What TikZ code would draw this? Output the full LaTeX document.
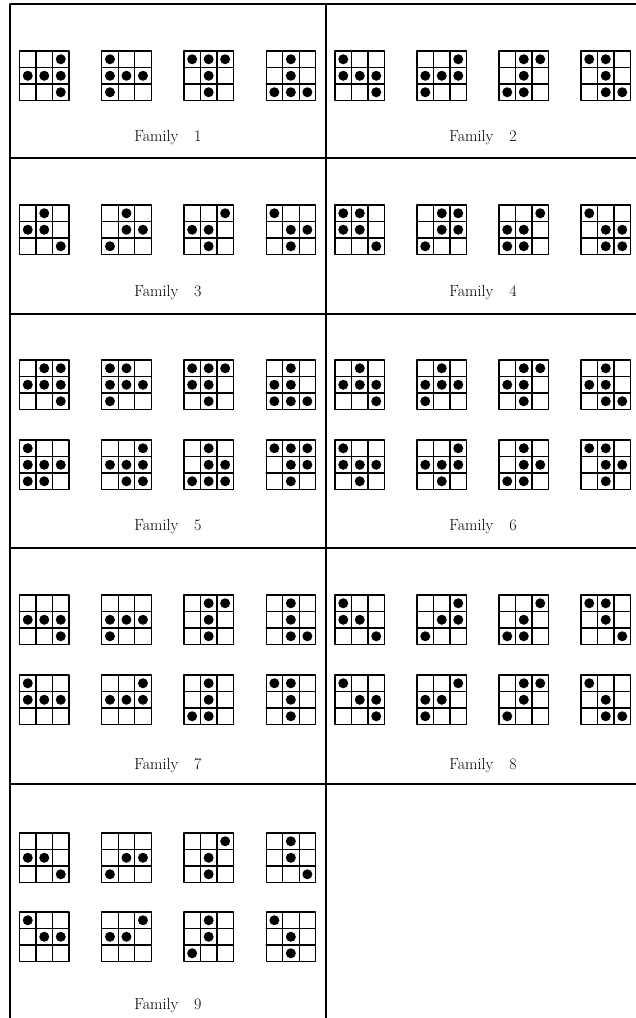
\documentclass[tikz,border=0pt]{standalone}
\usepackage{tikz}
\usetikzlibrary{calc}

% one 3x3 board: top-left corner (#1,#2), filled cells col/row in #3
\newcommand{\dotgrid}[3]{%
  \begin{scope}[shift={(#1,#2)}]
    \draw[gridline] (0,0) rectangle (49.5,49.5);
    \draw[gridline] (16.5,0) -- (16.5,49.5) (33,0) -- (33,49.5)
      (0,16.5) -- (49.5,16.5) (0,33) -- (49.5,33);
    \foreach \c/\r in {#3}
      \fill[dot] ({16.5*\c-8.25},{16.5*\r-8.25}) circle[radius=5pt];
  \end{scope}}

\begin{document}
\begin{tikzpicture}[
  x=1pt,y=-1pt,
  line cap=round,line join=round,
  frame/.style={line width=1.2pt},
  gridline/.style={line width=1.2pt},
  dot/.style={fill=black},
  famlabel/.style={font=\fontsize{16}{19}\selectfont}
]
  \useasboundingbox (0,0) rectangle (636,1018);

  % Panel frame
  \coordinate (TL) at (10,4);
  \coordinate (TM) at (326,4);
  \draw[frame] (TL) -- (636,4);
  \foreach \y in {158,314,548,784}
    \draw[frame] (10,\y) -- (636,\y);
  \draw[frame] (TL) -- (10,1018);
  \draw[frame] (TM) -- (326,1018);

  % Family 1
  \dotgrid{19.5}{51}{3/1,1/2,2/2,3/2,3/3}
  \dotgrid{101.7}{51}{1/1,1/2,2/2,3/2,1/3}
  \dotgrid{183.9}{51}{1/1,2/1,3/1,2/2,2/3}
  \dotgrid{266.1}{51}{2/1,2/2,1/3,2/3,3/3}
  \node[famlabel] (fam1) at (168,138) {Family\quad 1};

  % Family 2
  \dotgrid{335}{51}{1/1,1/2,2/2,3/2,3/3}
  \dotgrid{417}{51}{3/1,1/2,2/2,3/2,1/3}
  \dotgrid{499}{51}{2/1,3/1,2/2,1/3,2/3}
  \dotgrid{581}{51}{1/1,2/1,2/2,2/3,3/3}
  \node[famlabel] (fam2) at (483,138) {Family\quad 2};

  % Family 3
  \dotgrid{19.5}{205}{2/1,1/2,2/2,3/3}
  \dotgrid{101.7}{205}{2/1,2/2,3/2,1/3}
  \dotgrid{183.9}{205}{3/1,1/2,2/2,2/3}
  \dotgrid{266.1}{205}{1/1,2/2,3/2,2/3}
  \node[famlabel] (fam3) at (168,293) {Family\quad 3};

  % Family 4
  \dotgrid{335}{205}{1/1,2/1,1/2,2/2,3/3}
  \dotgrid{417}{205}{2/1,3/1,2/2,3/2,1/3}
  \dotgrid{499}{205}{3/1,1/2,2/2,1/3,2/3}
  \dotgrid{581}{205}{1/1,2/2,3/2,2/3,3/3}
  \node[famlabel] (fam4) at (483,293) {Family\quad 4};

  % Family 5
  \dotgrid{19.5}{360}{2/1,3/1,1/2,2/2,3/2,3/3}
  \dotgrid{101.7}{360}{1/1,2/1,1/2,2/2,3/2,1/3}
  \dotgrid{183.9}{360}{1/1,2/1,3/1,1/2,2/2,2/3}
  \dotgrid{266.1}{360}{2/1,1/2,2/2,1/3,2/3,3/3}
  \dotgrid{19.5}{440}{1/1,1/2,2/2,3/2,1/3,2/3}
  \dotgrid{101.7}{440}{3/1,1/2,2/2,3/2,2/3,3/3}
  \dotgrid{183.9}{440}{2/1,2/2,3/2,1/3,2/3,3/3}
  \dotgrid{266.1}{440}{1/1,2/1,3/1,2/2,3/2,2/3}
  \node[famlabel] (fam5) at (168,527) {Family\quad 5};

  % Family 6
  \dotgrid{335}{360}{2/1,1/2,2/2,3/2,3/3}
  \dotgrid{417}{360}{2/1,1/2,2/2,3/2,1/3}
  \dotgrid{499}{360}{2/1,3/1,1/2,2/2,2/3}
  \dotgrid{581}{360}{2/1,1/2,2/2,2/3,3/3}
  \dotgrid{335}{440}{1/1,1/2,2/2,3/2,2/3}
  \dotgrid{417}{440}{3/1,1/2,2/2,3/2,2/3}
  \dotgrid{499}{440}{2/1,2/2,3/2,1/3,2/3}
  \dotgrid{581}{440}{1/1,2/1,2/2,3/2,2/3}
  \node[famlabel] (fam6) at (483,527) {Family\quad 6};

  % Family 7
  \dotgrid{19.5}{595}{1/2,2/2,3/2,3/3}
  \dotgrid{101.7}{595}{1/2,2/2,3/2,1/3}
  \dotgrid{183.9}{595}{2/1,3/1,2/2,2/3}
  \dotgrid{266.1}{595}{2/1,2/2,2/3,3/3}
  \dotgrid{19.5}{675}{1/1,1/2,2/2,3/2}
  \dotgrid{101.7}{675}{3/1,1/2,2/2,3/2}
  \dotgrid{183.9}{675}{2/1,2/2,1/3,2/3}
  \dotgrid{266.1}{675}{1/1,2/1,2/2,2/3}
  \node[famlabel] (fam7) at (168,766) {Family\quad 7};

  % Family 8
  \dotgrid{335}{595}{1/1,1/2,2/2,3/3}
  \dotgrid{417}{595}{3/1,2/2,3/2,1/3}
  \dotgrid{499}{595}{3/1,2/2,1/3,2/3}
  \dotgrid{581}{595}{1/1,2/1,2/2,3/3}
  \dotgrid{335}{675}{1/1,2/2,3/2,3/3}
  \dotgrid{417}{675}{3/1,1/2,2/2,1/3}
  \dotgrid{499}{675}{2/1,3/1,2/2,1/3}
  \dotgrid{581}{675}{1/1,2/2,2/3,3/3}
  \node[famlabel] (fam8) at (483,766) {Family\quad 8};

  % Family 9
  \dotgrid{19.5}{833}{1/2,2/2,3/3}
  \dotgrid{101.7}{833}{2/2,3/2,1/3}
  \dotgrid{183.9}{833}{3/1,2/2,2/3}
  \dotgrid{266.1}{833}{2/1,2/2,3/3}
  \dotgrid{19.5}{912}{1/1,2/2,3/2}
  \dotgrid{101.7}{912}{3/1,1/2,2/2}
  \dotgrid{183.9}{912}{2/1,2/2,1/3}
  \dotgrid{266.1}{912}{1/1,2/2,2/3}
  \node[famlabel] (fam9) at (168,1006) {Family\quad 9};
\end{tikzpicture}
\end{document}
